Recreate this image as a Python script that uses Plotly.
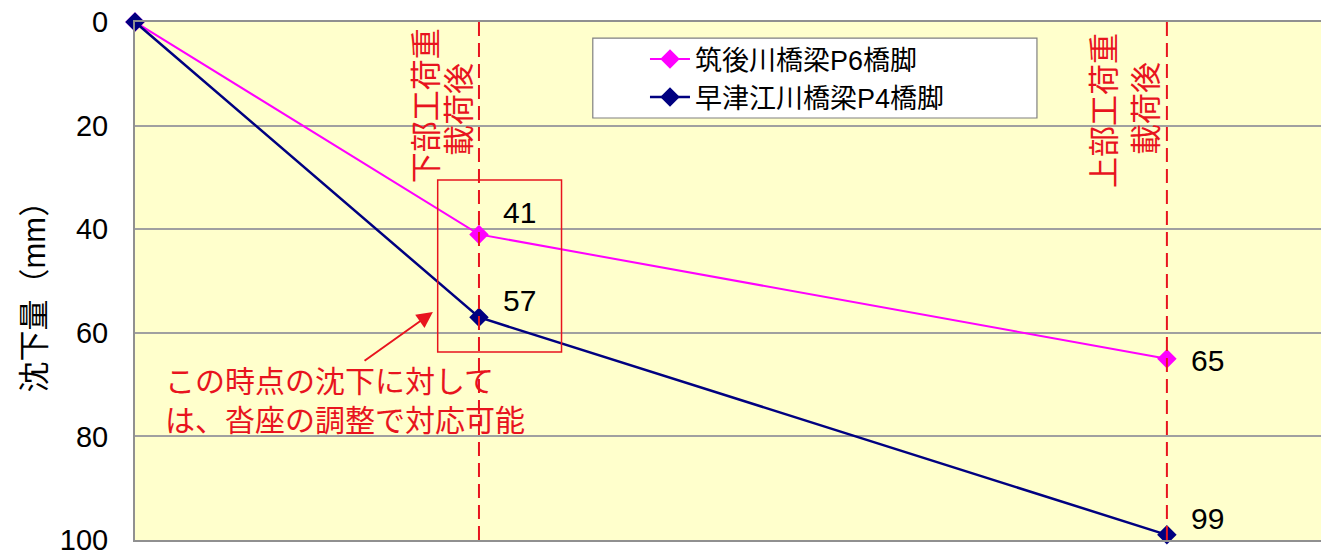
import plotly.graph_objects as go

# loading stages (position along x), settlement in mm
stage_x = [0, 1, 3]
p6_settle = [0, 41, 65]
p4_settle = [0, 57, 99]
p6_name = "筑後川橋梁P6橋脚"
p4_name = "早津江川橋梁P4橋脚"
y_ticks = [0, 20, 40, 60, 80, 100]
y_title = "沈下量（mm）"
stage_notes = [["下部工荷重", "載荷後"], ["上部工荷重", "載荷後"]]
note_text = "この時点の沈下に対して<br>は、沓座の調整で対応可能"

RED = "#E8141E"
FONT = "Liberation Sans, Noto Sans CJK JP"

fig = go.Figure()

fig.add_trace(go.Scatter(
    x=stage_x, y=p6_settle, name=p6_name, mode="lines+markers",
    line=dict(color="#FF00FF", width=2),
    marker=dict(symbol="diamond", size=15, color="#FF00FF"),
    cliponaxis=False,
))
fig.add_trace(go.Scatter(
    x=stage_x, y=p4_settle, name=p4_name, mode="lines+markers",
    line=dict(color="#000080", width=2.5),
    marker=dict(symbol="diamond", size=15, color="#000080"),
    cliponaxis=False,
))

# vertical dashed lines at the two loading stages
for sx in stage_x[1:]:
    fig.add_shape(type="line", xref="x", yref="paper", x0=sx, x1=sx, y0=0, y1=1,
                  line=dict(color=RED, width=2, dash="14px,7px"))

# rotated stage notes, one annotation per column
note_cols = [[(stage_x[1] - 0.15, 16.2), (stage_x[1] - 0.058, 17.0)],
             [(stage_x[2] - 0.183, 17.0), (stage_x[2] - 0.058, 16.6)]]
for cols, texts in zip(note_cols, stage_notes):
    for (nx, ny), txt in zip(cols, texts):
        fig.add_annotation(x=nx, y=ny, text=txt, textangle=-90, showarrow=False,
                           font=dict(size=31, color=RED, family=FONT))

# value labels
shifts = {(1, 41): 22, (3, 65): -2, (1, 57): 17, (3, 99): 16}
for series in (p6_settle, p4_settle):
    for sx, v in zip(stage_x[1:], series[1:]):
        fig.add_annotation(x=sx, y=v, text=str(v), showarrow=False,
                           xanchor="left", xshift=22, yshift=shifts.get((sx, v), 0),
                           font=dict(size=30, color="black", family=FONT))

# red box around first stage values
fig.add_shape(type="rect", xref="x", yref="y", x0=0.88, x1=1.24, y0=30.5, y1=63.7,
              line=dict(color=RED, width=1.5))

# legend frame
fig.add_shape(type="rect", xref="paper", yref="paper", x0=0.386, x1=0.7605,
              y0=0.8147, y1=0.969, fillcolor="white",
              line=dict(color="#808080", width=1.2))

# comment with arrow
fig.add_annotation(x=0.866, y=56.0, ax=0.663, ay=65.6, axref="x", ayref="y",
                   xref="x", yref="y", text="", showarrow=True,
                   arrowhead=2, arrowsize=1.6, arrowwidth=2, arrowcolor=RED)
fig.add_annotation(x=0.08, y=73.2, text=note_text, showarrow=False,
                   xanchor="left", align="left",
                   font=dict(size=30, color=RED, family=FONT))

# y axis title
fig.add_annotation(xref="paper", yref="paper", x=-0.085, y=0.484, text=y_title,
                   textangle=-90, showarrow=False, xanchor="center", yanchor="middle",
                   font=dict(size=31, color="black", family=FONT))

fig.update_layout(
    width=1321, height=558,
    margin=dict(l=135, r=0, t=22, b=18),
    paper_bgcolor="white",
    plot_bgcolor="#FFFFCC",
    font=dict(family=FONT, color="black"),
    showlegend=True,
    legend=dict(x=0.43, y=0.975, xanchor="left", yanchor="top",
                bgcolor="rgba(0,0,0,0)", borderwidth=0,
                font=dict(size=27, family=FONT), itemwidth=40),
    xaxis=dict(range=[0, 3.448], showticklabels=False, showgrid=False,
               zeroline=False, showline=True, linecolor="#909090", linewidth=2,
               mirror=True, ticks=""),
    yaxis=dict(range=[100, 0], tickvals=y_ticks, showgrid=True,
               gridcolor="#A0A0A0", gridwidth=1.5, zeroline=False,
               showline=True, linecolor="#909090", linewidth=2,
               tickfont=dict(size=29), ticklabelstandoff=19,
               ticklabeloverflow="allow"),
)

fig.write_html("out.html", config={"displayModeBar": False},
               post_script="document.body.style.margin='0';"
                           "document.documentElement.style.overflow='hidden';")
